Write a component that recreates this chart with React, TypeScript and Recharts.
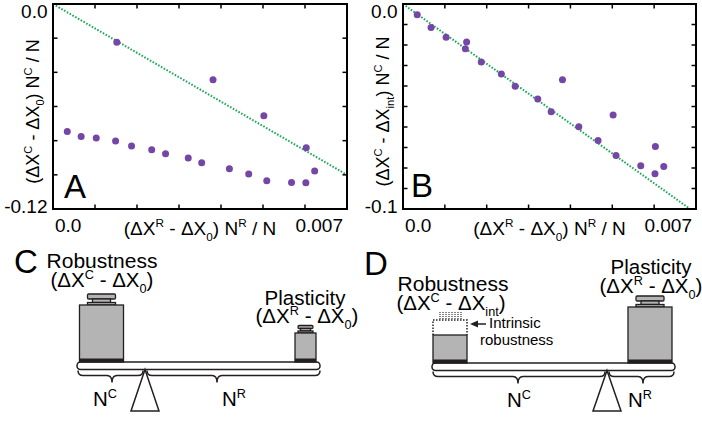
import React from 'react';
import { ScatterChart, Scatter, XAxis, YAxis, ReferenceLine } from 'recharts';

// ---------- data ----------
const xValues = [0.00034, 0.00067, 0.00103, 0.00149, 0.00152, 0.00187, 0.00235, 0.00268, 0.00322, 0.00354, 0.00381, 0.0042, 0.00466, 0.00502, 0.00509, 0.00568, 0.00603, 0.00602, 0.00623];
const yValuesA = [-0.0746, -0.0775, -0.0784, -0.0802, -0.0224, -0.0831, -0.0853, -0.0876, -0.0901, -0.0929, -0.0444, -0.0964, -0.0995, -0.0654, -0.1034, -0.1045, -0.0841, -0.1047, -0.0977];
const yValuesB = [-0.0052, -0.0115, -0.0162, -0.0218, -0.0185, -0.0283, -0.0341, -0.0401, -0.0463, -0.0526, -0.037, -0.0599, -0.0666, -0.0542, -0.0739, -0.0789, -0.0695, -0.0828, -0.0793];

const fitXA = [0, 0.007];
const fitYA = [0, -0.1];
const fitXB = [0, 0.00686];
const fitYB = [0, -0.1];

const xDomain = [0, 0.007];
const yDomainA = [-0.12, 0];
const yDomainB = [-0.1, 0];
const xTicks = [0, 0.001, 0.002, 0.003, 0.004, 0.005, 0.006, 0.007];
const yTicksA = [0, -0.02, -0.04, -0.06, -0.08, -0.1, -0.12];
const yTicksB = [0, -0.01, -0.02, -0.03, -0.04, -0.05, -0.06, -0.07, -0.08, -0.09, -0.1];
const xTickLabels = ['0.0', '0.007'];
const yTickLabelsA = ['0.0', '-0.12'];
const yTickLabelsB = ['0.0', '-0.1'];

const dataA = xValues.map((x, i) => ({ x, y: yValuesA[i] }));
const dataB = xValues.map((x, i) => ({ x, y: yValuesB[i] }));
const fitDataA = fitXA.map((x, i) => ({ x, y: fitYA[i] }));
const fitDataB = fitXB.map((x, i) => ({ x, y: fitYB[i] }));

// ---------- styling / layout ----------
const FONT = '"Liberation Sans", Arial, Helvetica, sans-serif';
const PURPLE = '#7446a6';
const GREEN = '#1fa85a';
const INK = '#231f20';
const GRAY = '#b4b4b4';
const CHART_W = 351;
const CHART_H = 250;
const MARGIN_TOP = 4;
const Y_AXIS_W = 53;
const X_AXIS_H = 41;
const TICK_PX = 4.5;

type Part = [string, number];

function rich(parts: Part[], fs: number) {
  let cur = 0;
  return parts.map(([t, k], i) => {
    const target = k === 1 ? -0.4 * fs : k === -1 ? 0.3 * fs : 0;
    const dy = target - cur;
    cur = target;
    return (
      <tspan key={i} dy={dy} fontSize={k ? fs * 0.62 : fs}>
        {t}
      </tspan>
    );
  });
}

const xTitleParts: Part[] = [['(\u0394X', 0], ['R', 1], [' - \u0394X', 0], ['0', -1], [') N', 0], ['R', 1], [' / N', 0]];
const yTitlePartsA: Part[] = [['(\u0394X', 0], ['C', 1], [' - \u0394X', 0], ['0', -1], [') N', 0], ['C', 1], [' / N', 0]];
const yTitlePartsB: Part[] = [['(\u0394X', 0], ['C', 1], [' - \u0394X', 0], ['int', -1], [') N', 0], ['C', 1], [' / N', 0]];

const robCParts: Part[] = [['(\u0394X', 0], ['C', 1], [' - \u0394X', 0], ['0', -1], [')', 0]];
const robDParts: Part[] = [['(\u0394X', 0], ['C', 1], [' - \u0394X', 0], ['int', -1], [')', 0]];
const plasParts: Part[] = [['(\u0394X', 0], ['R', 1], [' - \u0394X', 0], ['0', -1], [')', 0]];
const ncParts: Part[] = [['N', 0], ['C', 1]];
const nrParts: Part[] = [['N', 0], ['R', 1]];

function makeXTick(labels: string[]) {
  return (p: any) => {
    const v = p.payload ? p.payload.value : undefined;
    if (v === xTicks[0]) {
      return (
        <text x={p.x + 2} y={p.y} textAnchor="start" fontFamily={FONT} fontSize={19} fill="#000">
          {labels[0]}
        </text>
      );
    }
    if (v === xTicks[xTicks.length - 1]) {
      return (
        <text x={p.x - 4} y={p.y} textAnchor="end" fontFamily={FONT} fontSize={19} fill="#000">
          {labels[1]}
        </text>
      );
    }
    return <g />;
  };
}

function makeYTick(labels: string[], ticks: number[]) {
  return (p: any) => {
    const v = p.payload ? p.payload.value : undefined;
    if (v === ticks[0]) {
      return (
        <text x={p.x} y={p.y + 14} textAnchor="end" fontFamily={FONT} fontSize={19} fill="#000">
          {labels[0]}
        </text>
      );
    }
    if (v === ticks[ticks.length - 1]) {
      return (
        <text x={p.x} y={p.y + 3.5} textAnchor="end" fontFamily={FONT} fontSize={19} fill="#000">
          {labels[1]}
        </text>
      );
    }
    return <g />;
  };
}

const dot = (p: any) => <circle cx={p.cx} cy={p.cy} r={3.5} fill={PURPLE} />;

function Panel(props: {
  left: number;
  data: { x: number; y: number }[];
  fit: { x: number; y: number }[];
  yDomain: number[];
  yTicks: number[];
  yLabels: string[];
  yTitle: Part[];
  marginRight: number;
}) {
  const { left, data, fit, yDomain, yTicks, yLabels, yTitle, marginRight } = props;
  const [x0, x1] = xDomain;
  const [y0, y1] = yDomain;
  return (
    <div style={{ position: 'absolute', left, top: 0 }}>
      <ScatterChart width={CHART_W} height={CHART_H} margin={{ top: MARGIN_TOP, right: marginRight, bottom: 0, left: 0 }}>
        <XAxis
          xAxisId="b"
          type="number"
          dataKey="x"
          domain={[x0, x1]}
          ticks={xTicks}
          interval={0}
          height={X_AXIS_H}
          tickSize={0}
          tickMargin={23}
          axisLine={false}
          tickLine={false}
          tick={makeXTick(xTickLabels)}
          label={{
            content: (lp: any) => {
              const vb = lp.viewBox || { x: 53, y: 209, width: 294 };
              return (
                <text x={vb.x + vb.width / 2} y={vb.y + 26} textAnchor="middle" fontFamily={FONT} fontSize={19} fill="#000" style={{ whiteSpace: 'pre' }}>
                  {rich(xTitleParts, 19)}
                </text>
              );
            },
          }}
        />
        <YAxis
          yAxisId="l"
          type="number"
          dataKey="y"
          domain={[y0, y1]}
          ticks={yTicks}
          interval={0}
          width={Y_AXIS_W}
          tickSize={0}
          tickMargin={5.5}
          axisLine={false}
          tickLine={false}
          tick={makeYTick(yLabels, yTicks)}
          label={{
            content: (lp: any) => {
              const vb = lp.viewBox || { x: 0, y: 4, width: 53, height: 205 };
              const cx = vb.x + 39;
              const cy = vb.y + vb.height / 2 + 5;
              return (
                <text x={cx} y={cy} transform={`rotate(-90, ${cx}, ${cy})`} textAnchor="middle" fontFamily={FONT} fontSize={18} fill="#000" style={{ whiteSpace: 'pre' }}>
                  {rich(yTitle, 18)}
                </text>
              );
            },
          }}
        />
        <ReferenceLine xAxisId="b" yAxisId="l" segment={fit} stroke={GREEN} strokeWidth={2} strokeDasharray="1.6 1.6" />
        <Scatter xAxisId="b" yAxisId="l" data={data} shape={dot} isAnimationActive={false} />
      </ScatterChart>
    </div>
  );
}

// Frame with inward ticks drawn over a panel's plot area (same layout constants as the chart)
function Frame(props: { chartLeft: number; marginRight: number; yDomain: number[]; yTicks: number[] }) {
  const { chartLeft, marginRight, yDomain, yTicks } = props;
  const L = chartLeft + Y_AXIS_W;
  const R = chartLeft + CHART_W - marginRight;
  const T = MARGIN_TOP;
  const B = CHART_H - X_AXIS_H;
  const [x0, x1] = xDomain;
  const [y0, y1] = yDomain;
  const px = (v: number) => L + ((v - x0) / (x1 - x0)) * (R - L);
  const py = (v: number) => T + ((y1 - v) / (y1 - y0)) * (B - T);
  const lines: React.ReactNode[] = [];
  xTicks.slice(1, -1).forEach((v, i) => {
    lines.push(<line key={'xb' + i} x1={px(v)} y1={B} x2={px(v)} y2={B - TICK_PX} />);
    lines.push(<line key={'xt' + i} x1={px(v)} y1={T} x2={px(v)} y2={T + TICK_PX} />);
  });
  yTicks.slice(1, -1).forEach((v, i) => {
    lines.push(<line key={'yl' + i} x1={L} y1={py(v)} x2={L + TICK_PX} y2={py(v)} />);
    lines.push(<line key={'yr' + i} x1={R} y1={py(v)} x2={R - TICK_PX} y2={py(v)} />);
  });
  return (
    <g>
      <g stroke="#000" strokeWidth={1.5}>{lines}</g>
      <rect x={L} y={T} width={R - L} height={B - T} fill="none" stroke="#000" strokeWidth={2} />
    </g>
  );
}

function Weight(props: { cx: number; bottom: number; bw: number; bh: number; pw: number; nw: number; tph: number; nh: number; lph: number }) {
  const { cx, bottom, bw, bh, pw, nw, tph, nh, lph } = props;
  const top = bottom - bh;
  return (
    <g stroke={INK} strokeWidth={1.3}>
      <rect x={cx - pw / 2} y={top - lph - nh - tph} width={pw} height={tph} rx={1.2} fill={GRAY} />
      <rect x={cx - nw / 2} y={top - lph - nh} width={nw} height={nh} fill={GRAY} />
      <rect x={cx - pw / 2} y={top - lph} width={pw} height={lph} fill={GRAY} />
      <rect x={cx - bw / 2} y={top} width={bw} height={bh} fill={GRAY} />
      <rect x={cx - bw / 2} y={bottom - 3.5} width={bw} height={3.5} fill={INK} stroke="none" />
    </g>
  );
}

function bracePath(x1: number, x2: number, xm: number, y0: number, d: number) {
  const y1 = y0 + d * 0.42;
  const y2 = y0 + d;
  const r = 5;
  return `M${x1},${y0} Q${x1},${y1} ${x1 + r},${y1} L${xm - r},${y1} Q${xm},${y1} ${xm},${y2} Q${xm},${y1} ${xm + r},${y1} L${x2 - r},${y1} Q${x2},${y1} ${x2},${y0}`;
}

function Diagrams() {
  const t = { fontFamily: FONT, fill: '#000' } as const;
  const dots: React.ReactNode[] = [];
  for (let i = 0; i < 8; i++) {
    dots.push(<line key={'d' + i} x1={440 + i * 3} y1={312} x2={440 + i * 3} y2={319} stroke={INK} strokeWidth={1.1} strokeDasharray="1 1" />);
  }
  return (
    <svg width={702} height={423} style={{ position: 'absolute', left: 0, top: 0, pointerEvents: 'none' }}>
      <Frame chartLeft={0} marginRight={4} yDomain={yDomainA} yTicks={yTicksA} />
      <Frame chartLeft={350} marginRight={5} yDomain={yDomainB} yTicks={yTicksB} />
      <text x={64} y={198} fontSize={33} {...t}>A</text>
      <text x={411} y={197} fontSize={33} {...t}>B</text>

      {/* ---------- C ---------- */}
      <text x={14} y={273} fontSize={33} {...t}>C</text>
      <text x={102} y={268} fontSize={21} textAnchor="middle" {...t}>Robustness</text>
      <text x={102} y={287} fontSize={20.5} textAnchor="middle" style={{ whiteSpace: 'pre' }} {...t}>{rich(robCParts, 20.5)}</text>
      <text x={305} y={305} fontSize={20.5} textAnchor="middle" {...t}>Plasticity</text>
      <text x={307} y={323} fontSize={20.5} textAnchor="middle" style={{ whiteSpace: 'pre' }} {...t}>{rich(plasParts, 20.5)}</text>

      <rect x={77} y={362} width={243} height={7.5} rx={3.5} fill="#fff" stroke={INK} strokeWidth={1.5} />
      <Weight cx={101.5} bottom={362} bw={44} bh={57} pw={28} nw={18} tph={5} nh={3.5} lph={2.5} />
      <Weight cx={305.5} bottom={362} bw={21} bh={29} pw={15} nw={10} tph={3} nh={2.5} lph={2} />
      <polygon points="145,369.5 131,411 159,411" fill="#fff" stroke={INK} strokeWidth={1.5} />
      <path d={bracePath(78, 143, 112, 370.5, 12)} fill="none" stroke={INK} strokeWidth={1.5} />
      <path d={bracePath(147, 320, 217, 370.5, 12)} fill="none" stroke={INK} strokeWidth={1.5} />
      <text x={93} y={406} fontSize={20.5} {...t}>{rich(ncParts, 20.5)}</text>
      <text x={222} y={406} fontSize={20.5} {...t}>{rich(nrParts, 20.5)}</text>

      {/* ---------- D ---------- */}
      <text x={364} y={275} fontSize={33} {...t}>D</text>
      <text x={453} y={291} fontSize={21} textAnchor="middle" {...t}>Robustness</text>
      <text x={451} y={310} fontSize={20.5} textAnchor="middle" style={{ whiteSpace: 'pre' }} {...t}>{rich(robDParts, 20.5)}</text>
      <text x={651} y={274} fontSize={20.5} textAnchor="middle" {...t}>Plasticity</text>
      <text x={651} y={293} fontSize={20.5} textAnchor="middle" style={{ whiteSpace: 'pre' }} {...t}>{rich(plasParts, 20.5)}</text>
      <text x={489} y={328} fontSize={15} {...t}>Intrinsic</text>
      <text x={480} y={345} fontSize={15} {...t}>robustness</text>
      <line x1={486} y1={324} x2={476} y2={324} stroke={INK} strokeWidth={1.5} />
      <polygon points="470,324 478,320.5 478,327.5" fill={INK} />

      <rect x={432} y={363} width={243} height={7.5} rx={3.5} fill="#fff" stroke={INK} strokeWidth={1.5} />
      <path d="M433,335 L433,320 L467,320 L467,335" fill="none" stroke={INK} strokeWidth={1.5} strokeDasharray="1.5 1.5" />
      {dots}
      <g stroke={INK} strokeWidth={1.3}>
        <rect x={433} y={335} width={34} height={28} fill={GRAY} />
        <rect x={433} y={359.5} width={34} height={3.5} fill={INK} stroke="none" />
      </g>
      <Weight cx={650} bottom={363} bw={44} bh={56} pw={28} nw={18} tph={5} nh={3.5} lph={2.5} />
      <polygon points="607,370.5 593,411 621,411" fill="#fff" stroke={INK} strokeWidth={1.5} />
      <path d={bracePath(433, 605, 518, 371.5, 12)} fill="none" stroke={INK} strokeWidth={1.5} />
      <path d={bracePath(609, 674, 643, 371.5, 12)} fill="none" stroke={INK} strokeWidth={1.5} />
      <text x={507} y={407} fontSize={20.5} {...t}>{rich(ncParts, 20.5)}</text>
      <text x={628} y={407} fontSize={20.5} {...t}>{rich(nrParts, 20.5)}</text>
    </svg>
  );
}

export default function App() {
  return (
    <div style={{ position: 'absolute', left: 0, top: 0, width: 702, height: 423, background: '#fff', fontFamily: FONT, overflow: 'hidden' }}>
      <Panel left={0} data={dataA} fit={fitDataA} yDomain={yDomainA} yTicks={yTicksA} yLabels={yTickLabelsA} yTitle={yTitlePartsA} marginRight={4} />
      <Panel left={350} data={dataB} fit={fitDataB} yDomain={yDomainB} yTicks={yTicksB} yLabels={yTickLabelsB} yTitle={yTitlePartsB} marginRight={5} />
      <Diagrams />
    </div>
  );
}
